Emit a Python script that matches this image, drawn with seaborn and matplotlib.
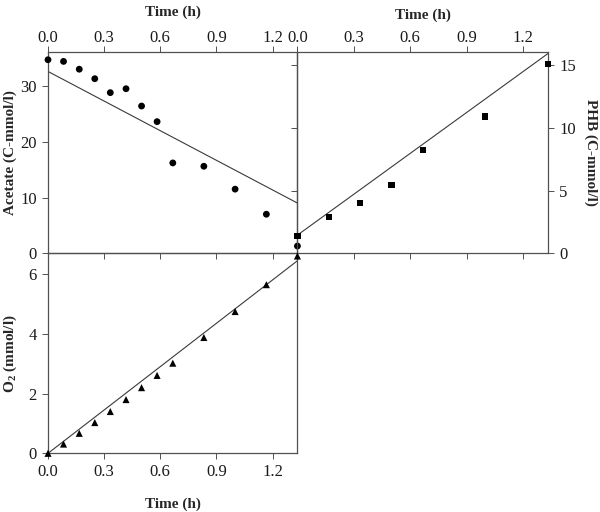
import numpy as np
import pandas as pd
import seaborn as sns
import matplotlib
matplotlib.use("Agg")
from matplotlib import pyplot as plt

## uptake / production over time, three panels sharing one corner
sns.set_theme(style="ticks")
plt.rcParams['font.family'] = ['Liberation Serif', 'DejaVu Serif']
plt.rcParams['mathtext.fontset'] = 'custom'
plt.rcParams['mathtext.rm'] = 'Liberation Serif'
plt.rcParams['mathtext.bf'] = 'Liberation Serif:bold'

# sampling times (h)
t_acetate = [0, 0.083, 0.167, 0.25, 0.333, 0.417, 0.5, 0.583, 0.667, 0.833, 1.0, 1.167, 1.333]
acetate = [34.7, 34.4, 33.0, 31.3, 28.8, 29.5, 26.4, 23.6, 16.2, 15.6, 11.5, 7.0, 1.3]

t_phb = [0, 0.167, 0.333, 0.5, 0.667, 1.0, 1.333]
phb = [1.4, 2.9, 4.0, 5.45, 8.25, 10.9, 15.1]

t_o2 = [0, 0.083, 0.167, 0.25, 0.333, 0.417, 0.5, 0.583, 0.667, 0.833, 1.0, 1.167, 1.333]
o2 = [0, 0.31, 0.67, 1.03, 1.40, 1.80, 2.20, 2.61, 3.02, 3.88, 4.75, 5.65, 6.61]

# linear fits drawn in the figure (intercept, slope)
fit_acetate = (32.6, -17.7)
fit_phb = (1.45, 10.85)
fit_o2 = (0.0, 4.84)

t_end = 1.3333
xticks = [0.0, 0.3, 0.6, 0.9, 1.2]
xtick_labels = ['0.0', '0.3', '0.6', '0.9', '1.2']

line_col = '#3a3a3a'
spine_col = '#505050'
lab_kw = dict(fontsize=11, fontweight='bold')

fig = plt.figure(figsize=(6, 5.12), dpi=100)
ax_ac = fig.add_axes([0.08, 0.5053, 0.4158, 0.3922])
ax_phb = fig.add_axes([0.4958, 0.5053, 0.4175, 0.3922])
ax_o2 = fig.add_axes([0.08, 0.1146, 0.4158, 0.3906])


def fit_frame(fit):
    tt = np.array([0.0, t_end])
    return pd.DataFrame({'t': tt, 'y': fit[0] + fit[1] * tt})


panels = [
    (ax_ac, t_acetate, acetate, fit_acetate, 'o', 24, (0, 36), [0, 10, 20, 30]),
    (ax_phb, t_phb, phb, fit_phb, 's', 20, (0, 16), [0, 5, 10, 15]),
    (ax_o2, t_o2, o2, fit_o2, '^', 26, (0, 6.7), [0, 2, 4, 6]),
]

for ax, t, y, fit, mk, sz, ylim, yticks in panels:
    df = pd.DataFrame({'t': t, 'y': y})
    ax.patch.set_alpha(0)
    sns.lineplot(data=fit_frame(fit), x='t', y='y', ax=ax, color=line_col, lw=0.8)
    sns.scatterplot(data=df, x='t', y='y', ax=ax, marker=mk, s=sz, color='black',
                    edgecolor='none', clip_on=False, zorder=5)
    ax.set_xlim(0, t_end)
    ax.set_ylim(*ylim)
    ax.set_xticks(xticks)
    ax.set_xticklabels(xtick_labels)
    ax.set_yticks(yticks)
    ax.set_xlabel('')
    ax.set_ylabel('')
    for sp in ax.spines.values():
        sp.set_visible(True)
        sp.set_color(spine_col)
        sp.set_linewidth(0.9)
    ax.tick_params(direction='out', length=4, width=0.7, color=spine_col,
                   labelsize=12, pad=4, labelcolor='#1a1a1a')

# acetate: labels on top and left
ax_ac.tick_params(top=True, labeltop=True, bottom=True, labelbottom=False,
                  left=True, labelleft=True, right=False)
ax_ac.tick_params(axis='x', pad=1)
ax_ac.xaxis.set_label_position('top')
ax_ac.set_xlabel('Time (h)', labelpad=10, **lab_kw)
ax_ac.set_ylabel('Acetate (C-mmol/l)', va='center', ha='center', **lab_kw)
ax_ac.yaxis.set_label_coords(-0.152, 0.5)

# PHB: labels on top and right
ax_phb.tick_params(top=True, labeltop=True, bottom=True, labelbottom=False,
                   left=True, labelleft=False, right=True, labelright=True)
ax_phb.tick_params(axis='x', pad=1)
ax_phb.xaxis.set_label_position('top')
ax_phb.yaxis.set_label_position('right')
ax_phb.set_xlabel('Time (h)', labelpad=8, **lab_kw)
ax_phb.set_ylabel('PHB (C-mmol/l)', rotation=-90, va='center', ha='center', **lab_kw)
ax_phb.yaxis.set_label_coords(1.171, 0.5)

# O2: labels on bottom and left
ax_o2.tick_params(top=False, bottom=True, labelbottom=True, left=True, labelleft=True,
                  right=False)
ax_o2.set_xlabel('Time (h)', labelpad=12, **lab_kw)
ax_o2.set_ylabel(r'O$_\mathbf{2}$ (mmol/l)', va='center', ha='center', **lab_kw)
ax_o2.yaxis.set_label_coords(-0.152, 0.5)

fig.savefig('out.png', dpi=100)
